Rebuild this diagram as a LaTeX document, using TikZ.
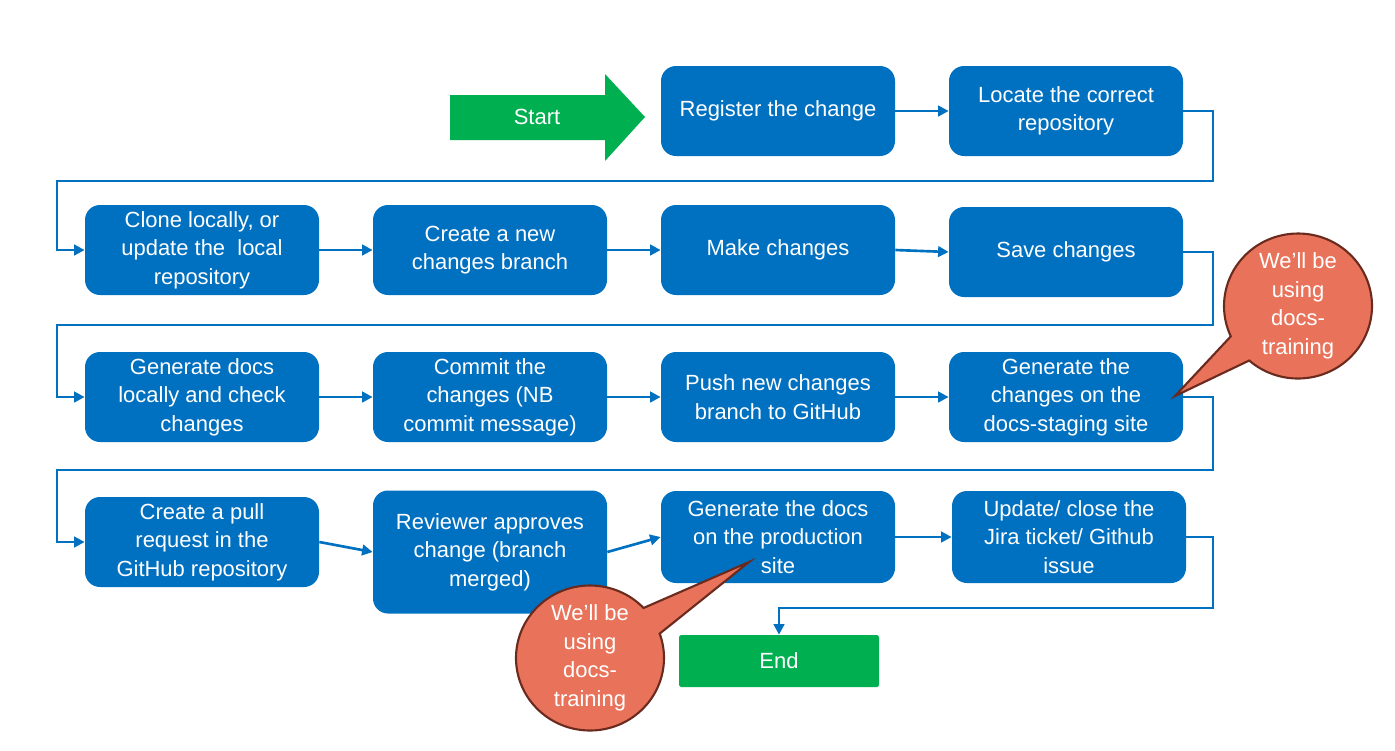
\documentclass[tikz,border=0pt]{standalone}
\usepackage{fontspec}
\setmainfont{Liberation Sans}
\usetikzlibrary{arrows.meta,shapes.callouts}

\definecolor{boxblue}{HTML}{0070C0}
\definecolor{gogreen}{HTML}{00B050}
\definecolor{notered}{HTML}{E8735A}
\definecolor{notebrown}{HTML}{6B2A1E}

\begin{document}
\begin{tikzpicture}[
  every node/.style={font=\fontsize{12.5}{16.2}\selectfont, text=white, align=center},
  box/.style={rectangle, rounded corners=0.3cm, fill=boxblue, minimum width=4.68cm, minimum height=1.8cm, inner sep=2pt},
  endbox/.style={rectangle, rounded corners=1pt, fill=gogreen, minimum width=4cm, minimum height=1.04cm},
  flow/.style={draw=boxblue, line width=1.5pt, -{Triangle[length=6pt,width=6pt]}},
  note/.style={ellipse callout, fill=notered, draw=notebrown, line width=1.2pt, minimum width=2.96cm, minimum height=2.9cm, inner sep=0pt, callout pointer arc=24}]
  \useasboundingbox (0,0) rectangle (27.9,-15);

  % start arrow
  \fill[gogreen] (9.0,-1.9) -- (12.1,-1.9) -- (12.1,-1.48) -- (12.9,-2.34) -- (12.1,-3.22) -- (12.1,-2.8) -- (9.0,-2.8) -- cycle;
  \node (start) at (10.74,-2.34) {Start};

  % row 1
  \node[box] (reg) at (15.56,-2.22) {Register the change};
  \node[box] (loc) at (21.32,-2.22) {Locate the correct\\repository};
  % row 2
  \node[box] (clone) at (4.04,-5.0) {Clone locally, or\\update the~ local\\repository};
  \node[box] (branch) at (9.8,-5.0) {Create a new\\changes branch};
  \node[box] (make) at (15.56,-5.0) {Make changes};
  \node[box] (save) at (21.32,-5.04) {Save changes};
  % row 3
  \node[box] (gen) at (4.04,-7.94) {Generate docs\\locally and check\\changes};
  \node[box] (commit) at (9.8,-7.94) {Commit the\\changes (NB\\commit message)};
  \node[box] (push) at (15.56,-7.94) {Push new changes\\branch to GitHub};
  \node[box] (stage) at (21.32,-7.94) {Generate the\\changes on the\\docs-staging site};
  % row 4
  \node[box] (pull) at (4.04,-10.84) {Create a pull\\request in the\\GitHub repository};
  \node[box, minimum height=2.46cm] (review) at (9.8,-11.04) {Reviewer approves\\change (branch\\merged)};
  \node[box, minimum height=1.84cm] (prod) at (15.56,-10.74) {Generate the docs\\on the production\\site};
  \node[box, minimum height=1.84cm] (update) at (21.38,-10.74) {Update/ close the\\Jira ticket/ Github\\issue};
  \node[endbox] (end) at (15.58,-13.22) {End};

  % connectors
  \draw[flow] (reg) -- (loc);
  \draw[flow] (loc.east) -| (24.26,-3.62) -| (1.14,-5.0) -- (clone.west);
  \draw[flow] (clone) -- (branch);
  \draw[flow] (branch) -- (make);
  \draw[flow] (make.east) -- (save.west);
  \draw[flow] (save.east) -| (24.26,-6.5) -| (1.14,-7.94) -- (gen.west);
  \draw[flow] (gen) -- (commit);
  \draw[flow] (commit) -- (push);
  \draw[flow] (push) -- (stage);
  \draw[flow] (stage.east) -| (24.26,-9.4) -| (1.14,-10.84) -- (pull.west);
  \draw[flow] (pull.east) -- (review.west);
  \draw[flow] (review.east) -- (prod.west);
  \draw[flow] (prod) -- (update);
  \draw[flow] (update.east) -| (24.26,-12.16) -| (end.north);

  % callouts
  \node[note, callout absolute pointer={(23.5,-7.92)},
    label={center:We’ll be\\using\\docs-\\training}] (note1) at (25.96,-6.12) {};
  \node[note, callout absolute pointer={(14.98,-11.24)},
    label={center:We’ll be\\using\\docs-\\training}] (note2) at (11.8,-13.16) {};
\end{tikzpicture}
\end{document}
